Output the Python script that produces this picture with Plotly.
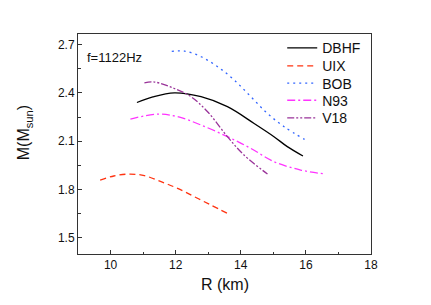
import plotly.graph_objects as go

dbhf_r = [10.81, 11.3, 11.96, 12.78, 13.59, 14.41, 15.02, 15.43, 15.91]
dbhf_m = [2.340, 2.375, 2.400, 2.376, 2.314, 2.210, 2.128, 2.066, 2.008]

uix_r = [9.68, 10.1, 10.58, 11.04, 11.55, 12.06, 12.57, 13.08, 13.61]
uix_m = [1.859, 1.884, 1.896, 1.886, 1.849, 1.807, 1.756, 1.704, 1.650]

bob_r = [11.88, 12.27, 12.78, 13.29, 13.80, 14.31, 14.82, 15.33, 15.96]
bob_m = [2.657, 2.659, 2.624, 2.562, 2.479, 2.376, 2.272, 2.190, 2.111]

n93_r = [10.61, 11.45, 12.06, 12.78, 13.59, 14.31, 15.02, 15.84, 16.60]
n93_m = [2.237, 2.268, 2.252, 2.200, 2.128, 2.055, 1.973, 1.921, 1.896]

v18_r = [11.04, 11.35, 11.96, 12.47, 12.98, 13.59, 14.10, 14.82]
v18_m = [2.462, 2.467, 2.427, 2.376, 2.283, 2.128, 2.014, 1.896]

series = [
    ("DBHF", dbhf_r, dbhf_m, "#000000", "solid"),
    ("UIX", uix_r, uix_m, "#ff3311", "6px,4px"),
    ("BOB", bob_r, bob_m, "#3366ff", "2px,4px"),
    ("N93", n93_r, n93_m, "#ff33ff", "8px,3px,2px,3px"),
    ("V18", v18_r, v18_m, "#993399", "7px,2px,2px,2px,2px,2px"),
]

FONT = "Arial, Liberation Sans, sans-serif"

# legend row centres (paper fraction of plot height)
legend_rows = [0.935, 0.853, 0.775, 0.697, 0.617]
legend_names = ["legend", "legend2", "legend3", "legend4", "legend5"]

fig = go.Figure()
for (name, r, m, color, dash), lg in zip(series, legend_names):
    fig.add_trace(go.Scatter(x=r, y=m, mode="lines", name=name, legend=lg, showlegend=True,
                             line=dict(color=color, width=1.3, dash=dash, shape="spline")))

axis_common = dict(showline=True, linecolor="#333333", linewidth=1, mirror=True,
                   ticks="inside", ticklen=4, tickcolor="#333333", showgrid=False,
                   zeroline=False, tickfont=dict(size=12, color="#111111", family=FONT))

fig.update_xaxes(range=[9, 18], dtick=2, tick0=10,
                 minor=dict(ticks="inside", ticklen=2.5, dtick=1, tick0=9, tickcolor="#333333"),
                 **axis_common)
fig.update_yaxes(range=[1.40, 2.765], dtick=0.3, tick0=1.5,
                 minor=dict(ticks="inside", ticklen=2.5, dtick=0.15, tick0=1.5, tickcolor="#333333"),
                 **axis_common)

fig.add_annotation(text="R (km)", xref="paper", yref="paper", x=0.5, y=-0.14,
                   xanchor="center", yanchor="middle", showarrow=False,
                   font=dict(size=16, family=FONT, color="#111111"))
fig.add_annotation(text="M(M<sub>sun</sub>)", xref="paper", yref="paper", x=-0.18, y=0.55,
                   xanchor="center", yanchor="middle", showarrow=False, textangle=-90,
                   font=dict(size=16, family=FONT, color="#111111"))
fig.add_annotation(text="f=1122Hz", xref="paper", yref="paper", x=0.025, y=0.892,
                   xanchor="left", yanchor="middle", showarrow=False,
                   font=dict(size=13, family=FONT, color="#111111"))

legend_layout = {}
for lg, yr in zip(legend_names, legend_rows):
    legend_layout[lg] = dict(x=0.697, y=yr, xanchor="left", yanchor="middle",
                             bgcolor="rgba(0,0,0,0)", visible=True,
                             font=dict(size=14, family=FONT, color="#111111"))

# page body has an 8px default margin, so shrink figure and margins accordingly
fig.update_layout(
    width=423, height=297,
    margin=dict(l=70, r=60, t=26, b=51),
    plot_bgcolor="white", paper_bgcolor="white",
    font=dict(family=FONT),
    showlegend=True,
    **legend_layout,
)

fig.write_html("out.html")
